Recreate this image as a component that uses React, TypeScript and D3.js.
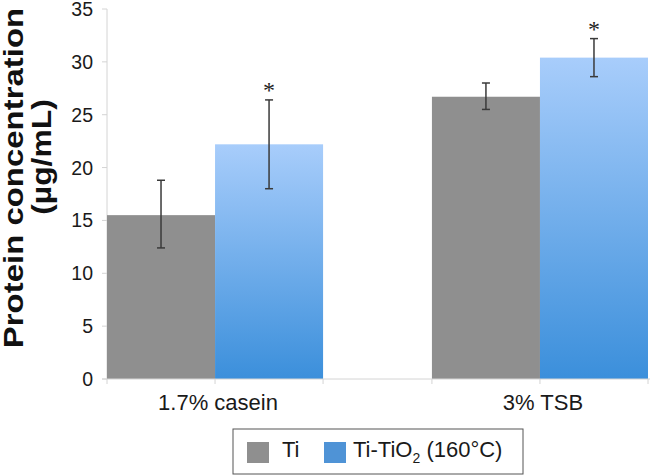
import React from "react";
import * as d3 from "d3";

const categories = ["1.7% casein", "3% TSB"];
const seriesNames = ["Ti", "Ti-TiO2"];
const tiMeans = [15.5, 26.7];
const tiErrLow = [12.4, 25.5];
const tiErrHigh = [18.8, 28.0];
const tioMeans = [22.2, 30.4];
const tioErrLow = [18.0, 28.6];
const tioErrHigh = [26.4, 32.2];
const significant = [true, true];
const yTicks = [0, 5, 10, 15, 20, 25, 30, 35];

export default function App() {
  const W = 650, H = 476;
  const left = 107, right = 648, top = 9, bottom = 379;
  const y = d3.scaleLinear().domain([0, 35]).range([bottom, top]);
  const x0 = d3.scaleBand().domain(categories).range([left, right]).paddingInner(0.335).paddingOuter(0);
  const x1 = d3.scaleBand().domain(seriesNames).range([0, x0.bandwidth()]);
  const bw = x1.bandwidth();
  const font = "Arial, 'Liberation Sans', Helvetica, sans-serif";

  const xTickPos: number[] = [];
  categories.forEach((c) => {
    const s = x0(c)!;
    xTickPos.push(s, s + bw, s + 2 * bw);
  });

  const series = [
    { name: "Ti", means: tiMeans, lo: tiErrLow, hi: tiErrHigh, fill: "#8f8f8f" },
    { name: "Ti-TiO2", means: tioMeans, lo: tioErrLow, hi: tioErrHigh, fill: "url(#blueGrad)" },
  ];

  return (
    <svg width={W} height={H} style={{ position: "absolute", left: 0, top: 0 }}>
      <defs>
        <linearGradient id="blueGrad" x1="0" y1="0" x2="0" y2="1">
          <stop offset="0" stopColor="#a8cdfb" />
          <stop offset="1" stopColor="#3b8fdb" />
        </linearGradient>
      </defs>
      <rect width={W} height={H} fill="#fff" />
      {/* y axis */}
      <line x1={left} x2={left} y1={top} y2={bottom} stroke="#d4d4d4" strokeWidth={1} />
      {yTicks.map((t) => (
        <g key={t}>
          <line x1={left - 5} x2={left} y1={y(t)} y2={y(t)} stroke="#d4d4d4" />
          <text x={93} y={y(t)} dy="0.36em" textAnchor="end" fontFamily={font} fontSize={19.5} fill="#1a1a1a">
            {t}
          </text>
        </g>
      ))}
      {/* bars */}
      {series.map((s) =>
        categories.map((c, i) => {
          const bx = x0(c)! + x1(s.name)!;
          return (
            <rect key={s.name + c} x={bx} y={y(s.means[i])} width={bw} height={bottom - y(s.means[i])} fill={s.fill} />
          );
        })
      )}
      {/* x axis */}
      <line x1={102} x2={W} y1={bottom} y2={bottom} stroke="#d4d4d4" />
      {xTickPos.map((p, i) => (
        <line key={i} x1={p} x2={p} y1={bottom} y2={bottom + 5} stroke="#d4d4d4" />
      ))}
      {categories.map((c) => (
        <text key={c} x={x0(c)! + x0.bandwidth() / 2 + 3} y={410} textAnchor="middle" fontFamily={font} fontSize={22} fill="#1a1a1a">
          {c}
        </text>
      ))}
      {/* error bars */}
      {series.map((s) =>
        categories.map((c, i) => {
          const cx = x0(c)! + x1(s.name)! + bw / 2;
          return (
            <g key={"e" + s.name + c} stroke="#3a3a3a" strokeWidth={1.5}>
              <line x1={cx} x2={cx} y1={y(s.hi[i])} y2={y(s.lo[i])} />
              <line x1={cx - 4} x2={cx + 4} y1={y(s.hi[i])} y2={y(s.hi[i])} />
              <line x1={cx - 4} x2={cx + 4} y1={y(s.lo[i])} y2={y(s.lo[i])} />
            </g>
          );
        })
      )}
      {/* significance */}
      {categories.map((c, i) =>
        significant[i] ? (
          <text key={"s" + c} x={x0(c)! + x1("Ti-TiO2")! + bw / 2} y={y(tioErrHigh[i]) - 2} textAnchor="middle" fontFamily="'Liberation Serif', 'DejaVu Serif', serif" fontSize={24} fill="#222">
            *
          </text>
        ) : null
      )}
      {/* y title */}
      <text transform={`translate(23,178) rotate(-90) scale(1.22,1)`} textAnchor="middle" fontFamily={font} fontWeight="bold" fontSize={27} fill="#111">
        Protein concentration
      </text>
      <text transform={`translate(51,157) rotate(-90) scale(1.18,1)`} textAnchor="middle" fontFamily={font} fontWeight="bold" fontSize={27} fill="#111">
        (µg/mL)
      </text>
      {/* legend */}
      <rect x={233} y={429} width={290} height={45} fill="#fff" stroke="#555" strokeWidth={1} />
      <rect x={247} y={442} width={22} height={21} fill="#8f8f8f" />
      <text x={282} y={457} fontFamily={font} fontSize={22} fill="#1a1a1a">Ti</text>
      <rect x={324} y={442} width={22} height={21} fill="#4f93d6" />
      <text x={353} y={457} fontFamily={font} fontSize={22} fill="#1a1a1a">
        Ti-TiO<tspan fontSize={14} dy={6}>2</tspan>
        <tspan dy={-6}> (160°C)</tspan>
      </text>
    </svg>
  );
}
